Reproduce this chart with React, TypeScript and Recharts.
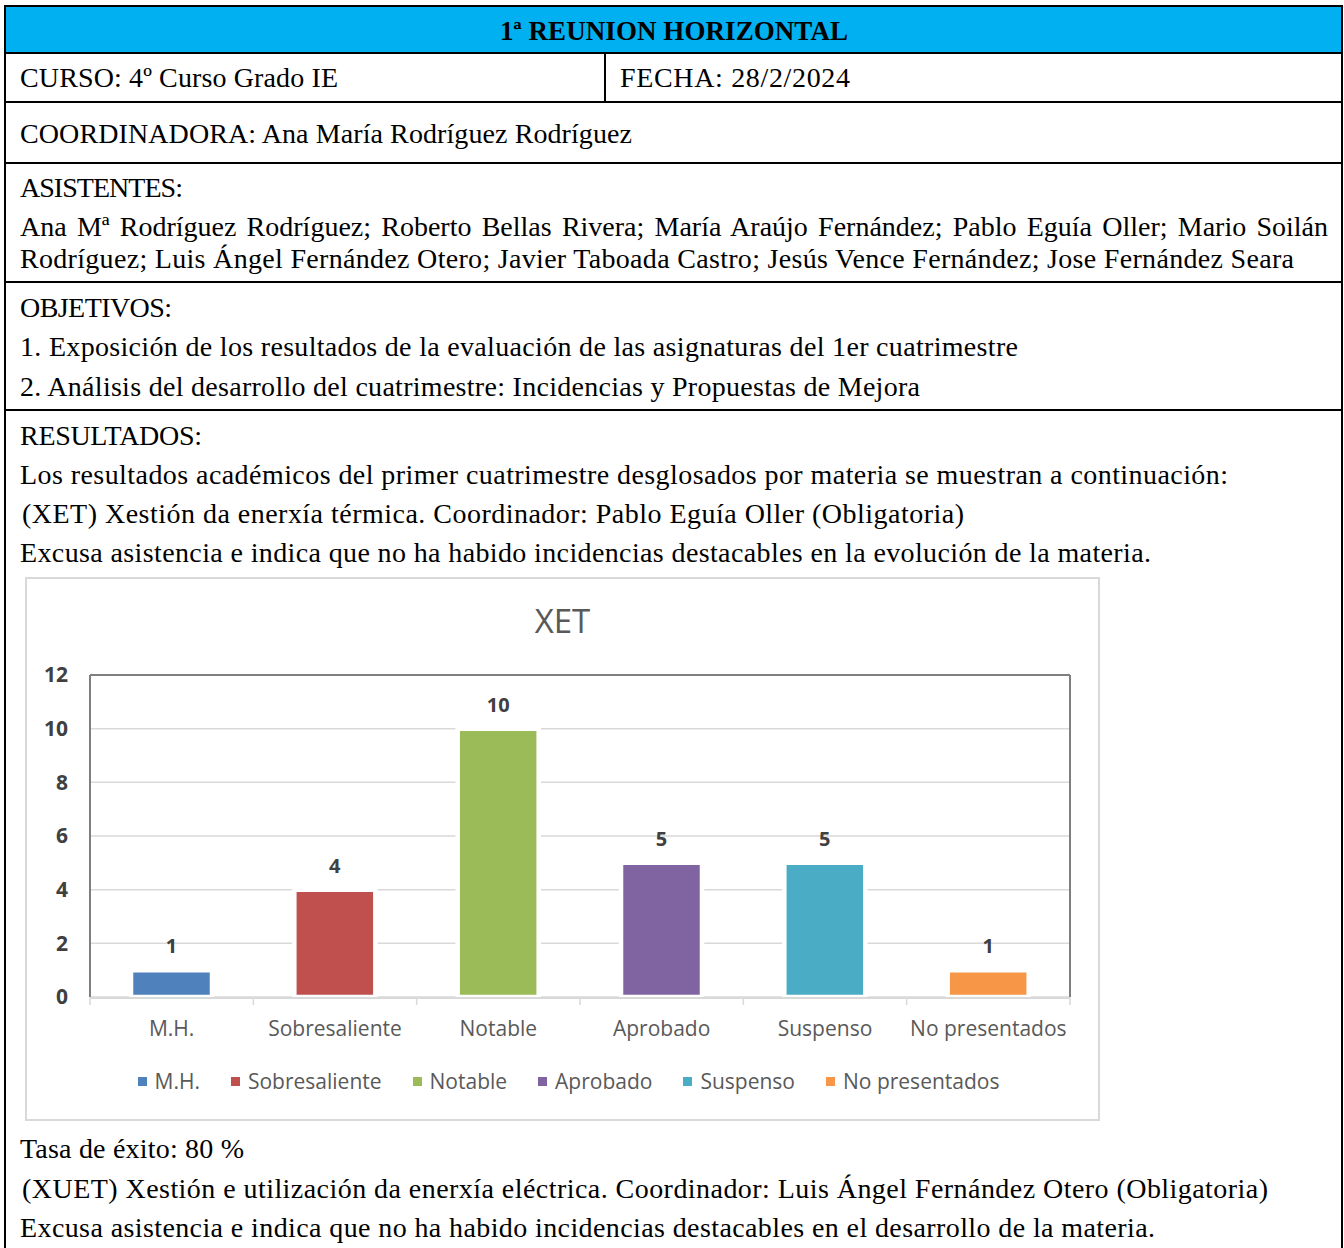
import React from 'react';
import { BarChart, Bar, XAxis, YAxis, CartesianGrid, LabelList, Legend, Cell } from 'recharts';

// ---- chart data ----
const categories = ['M.H.', 'Sobresaliente', 'Notable', 'Aprobado', 'Suspenso', 'No presentados'];
const values = [1, 4, 10, 5, 5, 1];
const colors = ['#4F81BD', '#C0504D', '#9BBB59', '#8064A2', '#4BACC6', '#F79646'];
const yTicks = [0, 2, 4, 6, 8, 10, 12];
const edgeTicks = [0, 1, 2, 3, 4, 5, 6];
const chartTitle = 'XET';

// ---- document text ----
const headerTitle = '1ª REUNION HORIZONTAL';
const cursoText = 'CURSO: 4º Curso Grado IE';
const fechaText = 'FECHA: 28/2/2024';
const coordText = 'COORDINADORA: Ana María Rodríguez Rodríguez';
const asistentesLabel = 'ASISTENTES:';
const asistentesLines = [
  'Ana Mª Rodríguez Rodríguez; Roberto Bellas Rivera; María Araújo Fernández; Pablo Eguía Oller; Mario Soilán',
  'Rodríguez; Luis Ángel Fernández Otero; Javier Taboada Castro; Jesús Vence Fernández; Jose Fernández Seara',
];
const objetivosLabel = 'OBJETIVOS:';
const objetivosLines = [
  '1. Exposición de los resultados de la evaluación de las asignaturas del 1er cuatrimestre',
  '2. Análisis del desarrollo del cuatrimestre: Incidencias y Propuestas de Mejora',
];
const resultadosLabel = 'RESULTADOS:';
const resultadosLines = [
  'Los resultados académicos del primer cuatrimestre desglosados por materia se muestran a continuación:',
  '(XET) Xestión da enerxía térmica. Coordinador: Pablo Eguía Oller (Obligatoria)',
  'Excusa asistencia e indica que no ha habido incidencias destacables en la evolución de la materia.',
];
const afterLines = [
  'Tasa de éxito: 80 %',
  '(XUET) Xestión e utilización da enerxía eléctrica. Coordinador: Luis Ángel Fernández Otero (Obligatoria)',
  'Excusa asistencia e indica que no ha habido incidencias destacables en el desarrollo de la materia.',
];

const data = categories.map((c, i) => ({ name: c, value: values[i], idx: i }));

const SERIF = '"Liberation Serif", "Times New Roman", serif';
const SANS = '"Open Sans", "Noto Sans", sans-serif';

// single line of document text, stretched to the width it has in the page
const T = ({ x, cy, x2, children, bold, size }: any) => (
  <text
    x={x}
    y={cy + 9.4}
    textLength={x2 - x}
    lengthAdjust="spacing"
    fontFamily={SERIF}
    fontSize={size || 28}
    fontWeight={bold ? 'bold' : 'normal'}
    fill="#000"
  >
    {children}
  </text>
);

const HLine = ({ y }: any) => (
  <div style={{ position: 'absolute', left: 5, top: y - 1, width: 1338, height: 2, background: '#000' }} />
);

const renderLegend = () => (
  <div
    style={{
      display: 'flex',
      justifyContent: 'center',
      alignItems: 'center',
      fontFamily: SANS,
      fontSize: 21,
      color: '#595959',
      paddingLeft: 12,
    }}
  >
    {categories.map((c, i) => (
      <div key={c} style={{ display: 'flex', alignItems: 'center', marginLeft: i ? 31 : 0 }}>
        <span style={{ width: 9, height: 9, background: colors[i], marginRight: 8, display: 'inline-block' }} />
        <span>{c}</span>
      </div>
    ))}
  </div>
);

const Chart = () => (
  <div style={{ position: 'absolute', left: 25, top: 577, width: 1075, height: 544 }}>
    <div
      style={{
        position: 'absolute',
        left: 0,
        top: 0,
        width: 1075,
        height: 544,
        boxSizing: 'border-box',
        border: '2px solid #d9d9d9',
      }}
    />
    <div
      style={{
        position: 'absolute',
        left: 0,
        top: 24,
        width: 1075,
        textAlign: 'center',
        fontFamily: SANS,
        fontSize: 33,
        lineHeight: '40px',
        color: '#595959',
      }}
    >
      {chartTitle}
    </div>
    <div style={{ position: 'absolute', left: 0, top: 0 }}>
      <BarChart width={1075} height={544} data={data} margin={{ top: 97, right: 29, bottom: 122, left: 64 }}>
        <CartesianGrid vertical={false} stroke="#d9d9d9" strokeWidth={1.5} />
        <XAxis
          xAxisId="edges"
          type="number"
          dataKey="idx"
          domain={[0, 6]}
          allowDataOverflow
          ticks={edgeTicks}
          height={1}
          axisLine={{ stroke: '#d9d9d9', strokeWidth: 2 }}
          tickLine={{ stroke: '#d9d9d9', strokeWidth: 1.5 }}
          tickSize={7}
          tickFormatter={() => ''}
        />
        <XAxis
          dataKey="name"
          height={1}
          axisLine={false}
          tickLine={false}
          tickSize={0}
          tickMargin={24}
          interval={0}
          tick={{ fill: '#595959', fontSize: 21, fontFamily: SANS }}
        />
        <XAxis
          xAxisId="top"
          orientation="top"
          dataKey="name"
          height={1}
          axisLine={{ stroke: '#7f7f7f', strokeWidth: 2 }}
          tick={false}
          tickLine={false}
        />
        <YAxis
          domain={[0, 12]}
          ticks={yTicks}
          width={1}
          axisLine={{ stroke: '#7f7f7f', strokeWidth: 2 }}
          tickLine={false}
          tickSize={0}
          tickMargin={22}
          tick={{ fill: '#404040', fontSize: 21, fontWeight: 'bold', fontFamily: SANS }}
        />
        <YAxis
          yAxisId="right"
          orientation="right"
          domain={[0, 12]}
          width={1}
          axisLine={{ stroke: '#7f7f7f', strokeWidth: 2 }}
          tick={false}
          tickLine={false}
        />
        <Legend
          layout="horizontal"
          verticalAlign="middle"
          align="center"
          content={renderLegend}
          wrapperStyle={{ top: 490, left: 0, width: 1075 }}
        />
        <Bar dataKey="value" barSize={81} stroke="#ffffff" strokeWidth={4.5} isAnimationActive={false}>
          {data.map((d, i) => (
            <Cell key={d.name} fill={colors[i]} />
          ))}
          <LabelList
            dataKey="value"
            position="top"
            offset={17}
            fill="#404040"
            fontSize={20}
            fontWeight="bold"
            fontFamily={SANS}
          />
        </Bar>
      </BarChart>
    </div>
  </div>
);

export default function App() {
  return (
    <div style={{ position: 'relative', width: 1344, height: 1248, overflow: 'hidden', background: '#fff' }}>
      <style>{`body{margin:0;}`}</style>
      {/* header fill */}
      <div style={{ position: 'absolute', left: 5, top: 6, width: 1338, height: 47, background: '#00B0F0' }} />
      {/* borders */}
      <HLine y={6} />
      <HLine y={53} />
      <HLine y={102} />
      <HLine y={163} />
      <HLine y={282} />
      <HLine y={410} />
      <div style={{ position: 'absolute', left: 4, top: 5, width: 2, height: 1243, background: '#000' }} />
      <div style={{ position: 'absolute', left: 1341, top: 5, width: 2, height: 1243, background: '#000' }} />
      <div style={{ position: 'absolute', left: 604, top: 53, width: 2, height: 49, background: '#000' }} />

      {/* justified first line of attendees */}
      <div
        style={{
          position: 'absolute',
          left: 20,
          top: 227 - 16,
          width: 1308,
          lineHeight: '32px',
          fontSize: 28,
          fontFamily: SERIF,
          whiteSpace: 'nowrap',
          textAlign: 'justify',
          textAlignLast: 'justify',
        }}
      >
        {asistentesLines[0]}
      </div>

      <svg
        width={1344}
        height={1248}
        style={{ position: 'absolute', left: 0, top: 0, pointerEvents: 'none' }}
      >
        <T x={500} x2={848} cy={31} bold size={27}>{headerTitle}</T>
        <T x={20} x2={338} cy={78}>{cursoText}</T>
        <T x={620} x2={850} cy={78}>{fechaText}</T>
        <T x={20} x2={632} cy={134}>{coordText}</T>

        <T x={20} x2={183} cy={188}>{asistentesLabel}</T>
        <T x={20} x2={1294} cy={259}>{asistentesLines[1]}</T>

        <T x={20} x2={172} cy={308}>{objetivosLabel}</T>
        <T x={20} x2={1018} cy={347}>{objetivosLines[0]}</T>
        <T x={20} x2={920} cy={387}>{objetivosLines[1]}</T>

        <T x={20} x2={202} cy={436}>{resultadosLabel}</T>
        <T x={20} x2={1228} cy={475}>{resultadosLines[0]}</T>
        <T x={22} x2={964} cy={514}>{resultadosLines[1]}</T>
        <T x={20} x2={1151} cy={553}>{resultadosLines[2]}</T>

        <T x={20} x2={244} cy={1149}>{afterLines[0]}</T>
        <T x={22} x2={1268} cy={1189}>{afterLines[1]}</T>
        <T x={20} x2={1155} cy={1228}>{afterLines[2]}</T>
      </svg>

      <Chart />
    </div>
  );
}
